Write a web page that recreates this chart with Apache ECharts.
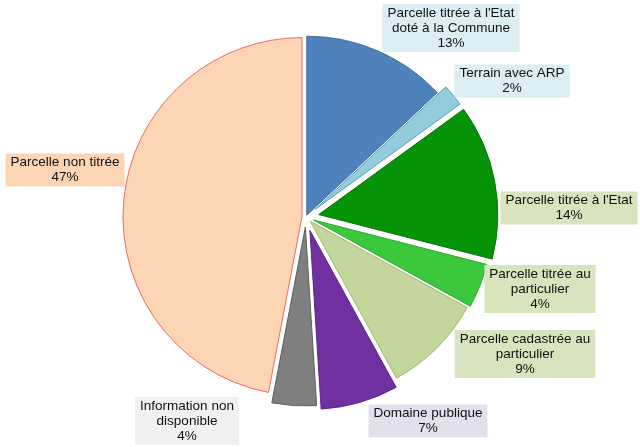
<!DOCTYPE html>
<html>
<head>
<meta charset="utf-8">
<script src="https://cdn.jsdelivr.net/npm/echarts@6/dist/echarts.min.js"></script>
<style>
  html, body { margin: 0; padding: 0; background: #fff; }
  #chart { width: 640px; height: 447px; }
</style>
</head>
<body>
<div id="chart"></div>
<script>
// Statut foncier des parcelles (part en %)
const categories = [
  "Parcelle titrée à l'Etat\ndoté à la Commune",
  "Terrain avec ARP",
  "Parcelle titrée à l'Etat",
  "Parcelle titrée au\nparticulier",
  "Parcelle cadastrée au\nparticulier",
  "Domaine publique",
  "Information non\ndisponible",
  "Parcelle non titrée"
];
const shares = [13, 2, 14, 4, 9, 7, 4, 47];

// Appearance of each slice and its callout
const sliceColors  = ['#4f81bd', '#93cddd', '#079307', '#3cc83c', '#c3d69b', '#7030a0', '#7f7f7f', '#fcd5b4'];
const sliceBorders = ['#41719c', '#5f9fb5', '#067506', '#2ea82e', '#9fba6e', '#5b2585', '#5e5e5e', '#ee6a64'];
const labelFills   = ['#daeef3', '#daeef3', '#d7e4bd', '#d7e4bd', '#d7e4bd', '#e4dfec', '#f0f0f0', '#fcd5b4'];
const explode      = [2, 12, 13, 8, 6, 14, 10, 4];
const labelSpots   = [[451, 28], [512, 81], [569, 208], [540, 289], [525, 354], [428, 421], [187, 421], [65, 170]];

const total = shares.reduce((a, b) => a + b, 0);

const chart = echarts.init(document.getElementById('chart'), null, { renderer: 'canvas' });

// One pie layer per slice so every slice can be pulled out by its own distance.
const series = categories.map((_, k) => ({
  type: 'pie',
  center: [306, 217],
  radius: [0, 179],
  startAngle: 90,
  clockwise: true,
  selectedMode: 'multiple',
  selectedOffset: explode[k],
  avoidLabelOverlap: false,
  silent: true,
  animation: false,
  emphasis: { disabled: true },
  label: { show: false },
  labelLine: { show: false },
  data: categories.map((name, i) => ({
    name: name,
    value: shares[i],
    selected: i === k,
    itemStyle: i === k
      ? { color: sliceColors[i], borderColor: sliceBorders[i], borderWidth: 1 }
      : { color: 'rgba(0,0,0,0)', borderWidth: 0 }
  }))
}));

// Callouts: category name with its share, on a tinted box
const callouts = categories.map((name, i) => ({
  type: 'text',
  x: labelSpots[i][0],
  y: labelSpots[i][1],
  silent: true,
  z: 10,
  style: {
    text: name + '\n' + Math.round(shares[i] / total * 100) + '%',
    fontFamily: 'Liberation Sans',
    fontSize: 13.5,
    lineHeight: 15,
    fill: '#111111',
    align: 'center',
    verticalAlign: 'middle',
    backgroundColor: labelFills[i],
    padding: [2, 5, 1, 5]
  }
}));

chart.setOption({
  backgroundColor: '#ffffff',
  animation: false,
  series: series,
  graphic: { elements: callouts }
});
</script>
</body>
</html>
